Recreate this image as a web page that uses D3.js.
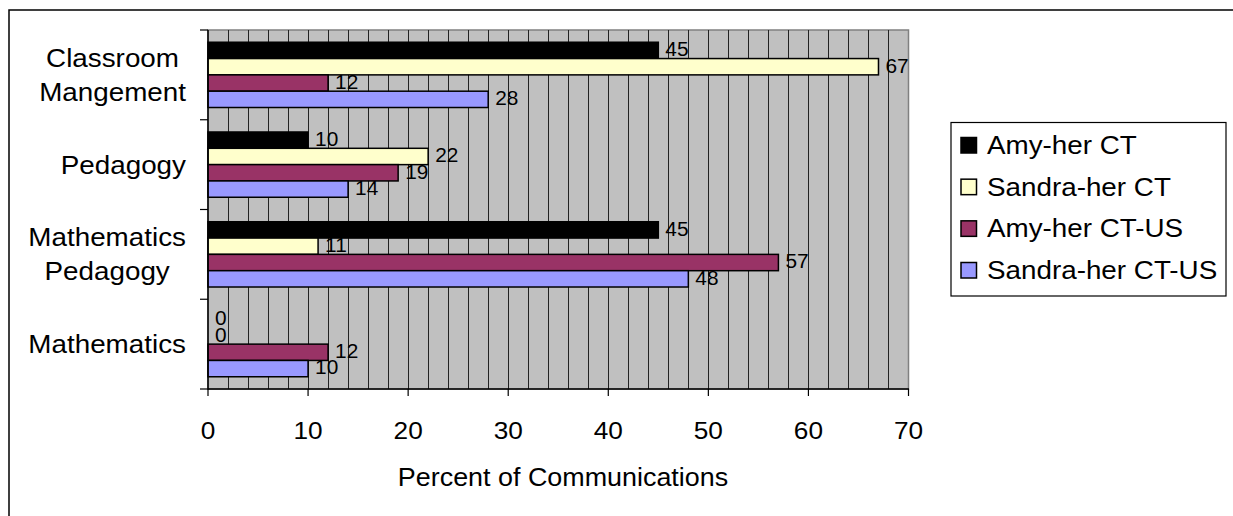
<!DOCTYPE html>
<html>
<head>
<meta charset="utf-8">
<script src="https://cdn.jsdelivr.net/npm/d3@7"></script>
<style>
  html, body { margin: 0; padding: 0; background: #ffffff; }
  svg { display: block; }
  text { font-family: Arial, "Liberation Sans", sans-serif; fill: #000; }
</style>
</head>
<body>
<svg id="chart" width="1233" height="516"></svg>
<script>
// ---- data ----
const categories = [
  ["Classroom", "Mangement"],
  ["Pedagogy"],
  ["Mathematics", "Pedagogy"],
  ["Mathematics"]
];
const seriesNames = ["Amy-her CT", "Sandra-her CT", "Amy-her CT-US", "Sandra-her CT-US"];
const seriesColors = ["#000000", "#FFFFCC", "#993366", "#9999FF"];
const amyCT       = [45, 10, 45, 0];
const sandraCT    = [67, 22, 11, 0];
const amyCTUS     = [12, 19, 57, 12];
const sandraCTUS  = [28, 14, 48, 10];
const xTicks = [0, 10, 20, 30, 40, 50, 60, 70];
const xTitle = "Percent of Communications";

const seriesValues = [amyCT, sandraCT, amyCTUS, sandraCTUS];
const catKeys = categories.map(c => c.join(" "));

// ---- layout ----
const svg = d3.select("#chart");
const plot = { left: 208, right: 908.5, top: 30, bottom: 389 };
const SX = 1.07; // horizontal text stretch

// outer frame (only top/left visible)
svg.append("rect").attr("x", 9).attr("y", 10).attr("width", 1300).attr("height", 700)
  .attr("fill", "none").attr("stroke", "#000").attr("stroke-width", 1.5);

const x = d3.scaleLinear().domain([0, 70]).range([plot.left, plot.right]);
const y0 = d3.scaleBand().domain(catKeys).range([plot.top, plot.bottom]).padding(0);
const y1 = d3.scaleBand().domain(seriesNames).range([0, y0.bandwidth()]).paddingInner(0).paddingOuter(0.75);

// plot background
svg.append("rect").attr("x", plot.left).attr("y", plot.top)
  .attr("width", plot.right - plot.left).attr("height", plot.bottom - plot.top)
  .attr("fill", "#C0C0C0").attr("stroke", "#808080").attr("stroke-width", 1.5);

// gridlines every 2 units
const gridVals = d3.range(2, 70, 2);
svg.append("g").selectAll("line").data(gridVals).join("line")
  .attr("x1", d => Math.round(x(d)) + 0.5).attr("x2", d => Math.round(x(d)) + 0.5)
  .attr("y1", plot.top).attr("y2", plot.bottom)
  .attr("stroke", "#222").attr("stroke-width", 1);

// bars
const gCat = svg.append("g").selectAll("g").data(catKeys).join("g")
  .attr("transform", d => `translate(0,${y0(d)})`);
gCat.selectAll("rect").data((d, ci) => seriesNames.map((s, si) => ({ s, si, v: seriesValues[si][ci] })))
  .join("rect")
  .attr("x", x(0))
  .attr("y", d => y1(d.s))
  .attr("width", d => x(d.v) - x(0))
  .attr("height", y1.bandwidth())
  .attr("fill", d => seriesColors[d.si])
  .attr("stroke", "#000").attr("stroke-width", d => d.v === 0 ? 0 : 1.5);

// value labels
gCat.selectAll("g.lbl").data((d, ci) => seriesNames.map((s, si) => ({ s, si, v: seriesValues[si][ci] })))
  .join("g").attr("class", "lbl")
  .attr("transform", d => `translate(${x(d.v) + 7},${y1(d.s) + y1.bandwidth() / 2 - 1}) scale(${SX},1)`)
  .append("text").attr("font-size", 19.5).attr("dy", "0.35em").text(d => d.v);

// axes lines
svg.append("line").attr("x1", plot.left).attr("x2", plot.left).attr("y1", plot.top).attr("y2", plot.bottom + 0.5)
  .attr("stroke", "#000").attr("stroke-width", 1.5);
svg.append("line").attr("x1", plot.left).attr("x2", plot.right + 0.5).attr("y1", plot.bottom).attr("y2", plot.bottom)
  .attr("stroke", "#000").attr("stroke-width", 1.5);

// x ticks
svg.append("g").selectAll("line").data(xTicks).join("line")
  .attr("x1", d => x(d)).attr("x2", d => x(d)).attr("y1", plot.bottom).attr("y2", plot.bottom + 7)
  .attr("stroke", "#000").attr("stroke-width", 1.2);
svg.append("g").selectAll("g").data(xTicks).join("g")
  .attr("transform", d => `translate(${x(d)},430) scale(${SX},1)`)
  .append("text").attr("text-anchor", "middle").attr("font-size", 24.5).attr("dy", "0.35em").text(d => d);

// y ticks at category boundaries
const yBounds = catKeys.map(k => y0(k)).concat([plot.bottom]);
svg.append("g").selectAll("line").data(yBounds).join("line")
  .attr("x1", plot.left - 8).attr("x2", plot.left).attr("y1", d => d).attr("y2", d => d)
  .attr("stroke", "#000").attr("stroke-width", 1.2);

// category labels (multi-line, centered block, right aligned)
const labelRight = 186;
categories.forEach((lines, ci) => {
  const cy = y0(catKeys[ci]) + y0.bandwidth() / 2;
  const g = svg.append("g");
  const texts = lines.map((t, li) => {
    const off = (li - (lines.length - 1) / 2) * 34;
    return g.append("text").attr("font-size", 26).attr("text-anchor", "middle")
      .attr("dy", "0.35em").attr("y", cy + off).text(t);
  });
  const maxW = d3.max(texts, t => t.node().getComputedTextLength()) * SX;
  const cx = labelRight - maxW / 2;
  g.attr("transform", `translate(${cx},0) scale(${SX},1)`);
});

// x title
svg.append("g").attr("transform", `translate(563,477) scale(1.035,1)`)
  .append("text").attr("text-anchor", "middle").attr("font-size", 26).attr("dy", "0.35em").text(xTitle);

// legend
const leg = { x: 951, y: 122.5, w: 275, h: 173.5 };
svg.append("rect").attr("x", leg.x).attr("y", leg.y).attr("width", leg.w).attr("height", leg.h)
  .attr("fill", "#fff").attr("stroke", "#000").attr("stroke-width", 1.2);
const legItemY = d3.scalePoint().domain(seriesNames).range([145, 270]);
const li = svg.append("g").selectAll("g").data(seriesNames).join("g")
  .attr("transform", d => `translate(0,${legItemY(d)})`);
li.append("rect").attr("x", 961).attr("y", -7.5).attr("width", 15.5).attr("height", 15.5)
  .attr("fill", (d, i) => seriesColors[i]).attr("stroke", "#000").attr("stroke-width", 1.5);
li.append("g").attr("transform", `translate(987,0) scale(${SX},1)`)
  .append("text").attr("font-size", 26).attr("dy", "0.35em").text(d => d);
</script>
</body>
</html>
